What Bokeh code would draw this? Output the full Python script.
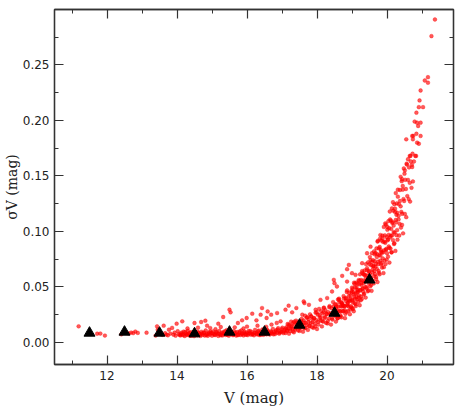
from bokeh.plotting import figure
from bokeh.models import (Range1d, LinearAxis, SingleIntervalTicker, NumeralTickFormatter,
                          ColumnDataSource, CustomJSTickFormatter)
from bokeh.embed import file_html
from bokeh.resources import INLINE

# Binned mean errors (black triangles)
bin_mag = [11.5, 12.5, 13.5, 14.5, 15.5, 16.5, 17.5, 18.5, 19.5]
bin_sigma = [0.0084, 0.0093, 0.0084, 0.0078, 0.0093, 0.0093, 0.0156, 0.0264, 0.0563]

# Individual stars (V, sigma V), by magnitude range
stars_bright = [
    (11.19, 0.0144), (11.72, 0.0078), (11.81, 0.0079), (11.94, 0.0061), (12.41, 0.0072),
    (12.62, 0.0080), (12.69, 0.0088), (12.75, 0.0083), (12.81, 0.0097), (12.88, 0.0085),
    (13.13, 0.0087), (13.39, 0.0061), (13.43, 0.0144), (13.45, 0.0114), (13.52, 0.0075),
    (13.58, 0.0068), (13.62, 0.0150), (13.66, 0.0082), (13.70, 0.0070), (13.74, 0.0063),
    (13.77, 0.0114), (13.81, 0.0079), (13.86, 0.0130), (13.90, 0.0069), (13.93, 0.0088),
    (13.96, 0.0060), (13.99, 0.0168), (14.02, 0.0100), (14.05, 0.0073), (14.08, 0.0066),
]

stars_14_17 = [
    (14.10, .0062), (14.13, .0088), (14.16, .0071), (14.19, .0097), (14.22, .0057),
    (14.25, .0080), (14.28, .0066), (14.31, .0104), (14.34, .0074), (14.37, .0059),
    (14.40, .0091), (14.43, .0069), (14.46, .0083), (14.49, .0056), (14.52, .0099),
    (14.55, .0073), (14.58, .0063), (14.61, .0087), (14.64, .0078), (14.67, .0058),
    (14.70, .0095), (14.73, .0067), (14.76, .0082), (14.79, .0061), (14.82, .0107),
    (14.85, .0075), (14.88, .0059), (14.91, .0090), (14.94, .0070), (14.97, .0084),
    (15.00, .0060), (15.03, .0098), (15.06, .0074), (15.09, .0065), (15.12, .0088),
    (15.15, .0079), (15.18, .0058), (15.21, .0102), (15.24, .0071), (15.27, .0085),
    (15.30, .0062), (15.33, .0094), (15.36, .0076), (15.39, .0067), (15.42, .0110),
    (15.45, .0081), (15.48, .0060), (15.51, .0091), (15.54, .0073), (15.57, .0086),
    (15.60, .0064), (15.63, .0100), (15.66, .0077), (15.69, .0061), (15.72, .0093),
    (15.75, .0070), (15.78, .0084), (15.81, .0066), (15.84, .0108), (15.87, .0079),
    (15.90, .0062), (15.93, .0096), (15.96, .0074), (15.99, .0088), (16.02, .0065),
    (16.05, .0103), (16.08, .0080), (16.11, .0069), (16.14, .0092), (16.17, .0076),
    (16.20, .0063), (16.23, .0112), (16.26, .0085), (16.29, .0071), (16.32, .0098),
    (16.35, .0066), (16.38, .0089), (16.41, .0078), (16.44, .0116), (16.47, .0068),
    (16.50, .0094), (16.53, .0082), (16.56, .0072), (16.59, .0105), (16.62, .0088),
    (16.65, .0070), (16.68, .0099), (16.71, .0080), (16.74, .0121), (16.77, .0090),
    (16.80, .0074), (16.83, .0108), (16.86, .0086), (16.89, .0127), (16.92, .0078),
    (16.95, .0100), (16.98, .0091), (17.01, .0132), (17.04, .0083), (17.07, .0112),
]

stars_14_17_b = [
    (14.115, .0077), (14.175, .0064), (14.235, .0093), (14.295, .0072), (14.355, .0084),
    (14.415, .0060), (14.475, .0076), (14.535, .0068), (14.595, .0095), (14.655, .0071),
    (14.715, .0080), (14.775, .0089), (14.835, .0064), (14.895, .0078), (14.955, .0097),
    (15.015, .0082), (15.075, .0069), (15.135, .0095), (15.195, .0075), (15.255, .0063),
    (15.315, .0081), (15.375, .0100), (15.435, .0068), (15.495, .0077), (15.555, .0096),
    (15.615, .0070), (15.675, .0086), (15.735, .0064), (15.795, .0099), (15.855, .0073),
    (15.915, .0085), (15.975, .0068), (16.035, .0079), (16.095, .0101), (16.155, .0071),
    (16.215, .0087), (16.275, .0077), (16.335, .0106), (16.395, .0067), (16.455, .0086),
    (16.515, .0076), (16.575, .0113), (16.635, .0079), (16.695, .0092), (16.755, .0072),
    (16.815, .0096), (16.875, .0115), (16.935, .0088), (16.995, .0118), (17.055, .0097),
]

stars_scatter_mid = [
    (14.15, .0189), (14.50, .0174), (14.69, .0183), (14.81, .0195), (14.86, .0150),
    (15.18, .0168), (15.32, .0228), (15.50, .0294), (15.53, .0270), (15.74, .0174),
    (15.86, .0198), (15.99, .0219), (16.15, .0258), (16.27, .0198), (16.43, .0309),
    (16.39, .0249), (16.56, .0219), (16.59, .0278), (16.69, .0249), (16.86, .0264),
    (16.96, .0189), (17.10, .0294), (17.19, .0330), (17.29, .0270), (17.41, .0309),
    (17.64, .0354), (17.58, .0249), (14.30, .0125), (14.60, .0132), (14.95, .0128),
    (15.25, .0138), (15.65, .0135), (16.00, .0142), (16.30, .0150), (16.70, .0160),
    (15.10, .0118), (15.90, .0125), (16.55, .0140), (16.85, .0175),
]

stars_17_19 = [
    (17.10, .0084), (17.12, .0135), (17.14, .0107), (17.16, .0165), (17.18, .0125),
    (17.20, .0078), (17.22, .0155), (17.24, .0102), (17.26, .0187), (17.28, .0139),
    (17.30, .0122), (17.32, .0177), (17.34, .0090), (17.36, .0163), (17.38, .0115),
    (17.40, .0196), (17.42, .0137), (17.44, .0182), (17.46, .0107), (17.48, .0160),
    (17.50, .0103), (17.52, .0171), (17.54, .0133), (17.56, .0210), (17.58, .0158),
    (17.60, .0096), (17.62, .0197), (17.64, .0127), (17.66, .0240), (17.68, .0175),
    (17.70, .0155), (17.72, .0225), (17.74, .0112), (17.76, .0207), (17.78, .0147),
    (17.80, .0252), (17.82, .0174), (17.84, .0233), (17.86, .0136), (17.88, .0205),
    (17.90, .0131), (17.92, .0218), (17.94, .0168), (17.96, .0267), (17.98, .0199),
    (18.00, .0120), (18.02, .0249), (18.04, .0160), (18.06, .0301), (18.08, .0221),
    (18.10, .0195), (18.12, .0282), (18.14, .0143), (18.16, .0260), (18.18, .0186),
    (18.20, .0313), (18.22, .0219), (18.24, .0290), (18.26, .0175), (18.28, .0256),
    (18.30, .0170), (18.32, .0271), (18.34, .0214), (18.36, .0327), (18.38, .0249),
    (18.40, .0160), (18.42, .0306), (18.44, .0205), (18.46, .0363), (18.48, .0272),
    (18.50, .0244), (18.52, .0343), (18.54, .0187), (18.56, .0322), (18.58, .0239),
    (18.60, .0386), (18.62, .0279), (18.64, .0363), (18.66, .0231), (18.68, .0327),
    (18.70, .0225), (18.72, .0347), (18.74, .0280), (18.76, .0417), (18.78, .0325),
    (18.80, .0218), (18.82, .0395), (18.84, .0274), (18.86, .0468), (18.88, .0359),
    (18.90, .0324), (18.92, .0446), (18.94, .0253), (18.96, .0418), (18.98, .0315),
    (19.00, .0493),
]

stars_17_19_b = [
    (17.11, .0124), (17.15, .0102), (17.19, .0158), (17.23, .0123), (17.27, .0149),
    (17.31, .0099), (17.35, .0186), (17.39, .0128), (17.43, .0168), (17.47, .0153),
    (17.51, .0131), (17.55, .0188), (17.59, .0158), (17.63, .0178), (17.67, .0130),
    (17.71, .0224), (17.75, .0183), (17.79, .0147), (17.83, .0233), (17.87, .0179),
    (17.91, .0218), (17.95, .0143), (17.99, .0271), (18.03, .0186), (18.07, .0247),
    (18.11, .0225), (18.15, .0192), (18.19, .0273), (18.23, .0230), (18.27, .0255),
    (18.31, .0191), (18.35, .0316), (18.39, .0261), (18.43, .0215), (18.47, .0323),
    (18.51, .0256), (18.55, .0309), (18.59, .0217), (18.63, .0383), (18.67, .0278),
    (18.71, .0356), (18.75, .0330), (18.79, .0290), (18.83, .0399), (18.87, .0344),
    (18.91, .0378), (18.95, .0295), (18.99, .0464),
]

stars_scatter_faint = [
    (18.91, .0698), (18.86, .0659), (18.72, .0599), (18.48, .0563), (18.50, .0533),
    (18.43, .0458), (18.57, .0503), (18.86, .0548), (19.00, .0623), (19.10, .0608),
    (18.10, .0383), (18.29, .0399), (17.62, .0368), (17.77, .0338), (17.96, .0294),
    (18.19, .0309), (19.43, .0803), (19.53, .0862), (19.81, .0967), (19.29, .0713),
]

stars_19_21 = [
    (19.00, .0385), (19.01, .0308), (19.02, .0480), (19.03, .0359), (19.04, .0451),
    (19.05, .0280), (19.06, .0538), (19.07, .0408), (19.08, .0352), (19.09, .0498),
    (19.10, .0440), (19.11, .0327), (19.12, .0538), (19.13, .0409), (19.14, .0473),
    (19.15, .0387), (19.16, .0529), (19.17, .0457), (19.18, .0367), (19.19, .0561),
    (19.20, .0422), (19.21, .0523), (19.22, .0334), (19.23, .0613), (19.24, .0472),
    (19.25, .0411), (19.26, .0562), (19.27, .0518), (19.28, .0391), (19.29, .0626),
    (19.30, .0482), (19.31, .0553), (19.32, .0458), (19.33, .0614), (19.34, .0535),
    (19.35, .0438), (19.36, .0648), (19.37, .0498), (19.38, .0607), (19.39, .0403),
    (19.40, .0705), (19.41, .0552), (19.42, .0485), (19.43, .0650), (19.44, .0601),
    (19.45, .0460), (19.46, .0721), (19.47, .0559), (19.48, .0638), (19.49, .0530),
    (19.50, .0705), (19.51, .0615), (19.52, .0505), (19.53, .0741), (19.54, .0572),
    (19.55, .0694), (19.56, .0464), (19.57, .0803), (19.58, .0630), (19.59, .0556),
    (19.60, .0740), (19.61, .0686), (19.62, .0531), (19.63, .0820), (19.64, .0643),
    (19.65, .0731), (19.66, .0614), (19.67, .0806), (19.68, .0708), (19.69, .0589),
    (19.70, .0846), (19.71, .0662), (19.72, .0795), (19.73, .0543), (19.74, .0915),
    (19.75, .0726), (19.76, .0644), (19.77, .0847), (19.78, .0786), (19.79, .0613),
    (19.80, .0933), (19.81, .0736), (19.82, .0834), (19.83, .0703), (19.84, .0917),
    (19.85, .0808), (19.86, .0674), (19.87, .0962), (19.88, .0756), (19.89, .0905),
    (19.90, .0624), (19.91, .1040), (19.92, .0829), (19.93, .0737), (19.94, .0964),
    (19.95, .0897), (19.96, .0705), (19.97, .1061), (19.98, .0842), (19.99, .0949),
    (20.00, .0803), (20.01, .1041), (20.02, .0920), (20.03, .0772), (20.04, .1092),
    (20.05, .0864), (20.06, .1029), (20.07, .0719), (20.08, .1179), (20.09, .0946),
    (20.10, .0845), (20.11, .1097), (20.12, .1023), (20.13, .0811), (20.14, .1207),
    (20.15, .0964), (20.16, .1084), (20.17, .0922), (20.18, .1187), (20.19, .1052),
    (20.20, .0886), (20.21, .1244), (20.22, .0989), (20.23, .1175), (20.24, .0824),
    (20.25, .1345), (20.26, .1081), (20.27, .0966), (20.28, .1252), (20.29, .1168),
    (20.30, .0925), (20.31, .1376), (20.33, .1108), (20.34, .1246), (20.36, .1068),
    (20.37, .1373), (20.39, .1226), (20.40, .1034), (20.42, .1452), (20.43, .1159),
    (20.45, .1376), (20.46, .0982), (20.48, .1567), (20.49, .1274), (20.51, .1157),
    (20.52, .1465), (20.54, .1382), (20.55, .1128), (20.57, .1602), (20.58, .1318),
    (20.60, .1464), (20.62, .1291), (20.63, .1576), (20.65, .1438), (20.66, .1269),
    (20.68, .1630), (20.70, .1393), (20.72, .1580), (20.74, .1450), (20.67, .1680),
    (20.81, .1680), (20.73, .1700), (20.77, .1630),
]

stars_19_21_b = [
    (18.51, .0288), (18.53, .0239), (18.55, .0340), (18.57, .0280), (18.59, .0217),
    (18.61, .0322), (18.63, .0394), (18.65, .0285), (18.67, .0243), (18.69, .0363),
    (18.71, .0322), (18.73, .0337), (18.75, .0282), (18.77, .0395), (18.79, .0326),
    (18.81, .0257), (18.83, .0372), (18.85, .0453), (18.87, .0331), (18.89, .0283),
    (18.91, .0417), (18.93, .0370), (18.95, .0387), (18.97, .0325), (18.99, .0450),
    (19.01, .0375), (19.03, .0300), (19.05, .0433), (19.07, .0527), (19.09, .0392),
    (19.11, .0342), (19.13, .0498), (19.15, .0448), (19.17, .0472), (19.19, .0402),
    (19.21, .0555), (19.23, .0467), (19.25, .0379), (19.27, .0534), (19.29, .0642),
    (19.31, .0487), (19.33, .0429), (19.35, .0608), (19.37, .0550), (19.39, .0577),
    (19.41, .0499), (19.43, .0668), (19.45, .0569), (19.47, .0467), (19.49, .0643),
    (19.51, .0768), (19.53, .0586), (19.55, .0518), (19.57, .0724), (19.59, .0655),
    (19.61, .0686), (19.63, .0597), (19.65, .0793), (19.67, .0681), (19.69, .0568),
    (19.71, .0768), (19.73, .0908), (19.75, .0704), (19.77, .0626), (19.79, .0859),
    (19.81, .0782), (19.83, .0817), (19.85, .0715), (19.87, .0938), (19.89, .0810),
    (19.91, .0677), (19.93, .0908), (19.95, .1071), (19.97, .0835), (19.99, .0746),
    (20.01, .1015), (20.03, .0928), (20.05, .0969), (20.07, .0851), (20.09, .1107),
    (20.11, .0961), (20.13, .0811), (20.15, .1076), (20.17, .1263), (20.19, .0994),
    (20.21, .0893), (20.23, .1205), (20.25, .1103), (20.27, .1150), (20.29, .1012),
    (20.31, .1313), (20.33, .1140), (20.35, .0963), (20.37, .1274), (20.39, .1492),
    (20.41, .1176), (20.43, .1058), (20.45, .1409), (20.47, .1291),
]

stars_tail = [
    (21.37, .291), (21.27, .276), (21.17, .239), (21.08, .236), (21.17, .234),
    (20.96, .227), (20.93, .218), (20.91, .212), (21.03, .212), (20.84, .207),
    (20.79, .199), (20.86, .198), (20.96, .198), (20.89, .195), (20.84, .188),
    (20.75, .186), (20.96, .186), (20.55, .183), (20.74, .183), (20.86, .180),
    (20.91, .179), (20.65, .168), (20.83, .168), (20.60, .165), (20.56, .161),
    (20.71, .160), (20.50, .152), (20.43, .147), (20.51, .155), (20.72, .186),
]

segments = [stars_bright, stars_14_17, stars_14_17_b, stars_scatter_mid, stars_17_19,
            stars_17_19_b, stars_scatter_faint, stars_19_21, stars_19_21_b, stars_tail]
star_mag = [p[0] for seg in segments for p in seg]
star_sigma = [p[1] for seg in segments for p in seg]

x_lo, x_hi = 10.5, 21.9
y_lo, y_hi = -0.02, 0.30

AX = "#333333"
TICK_FONT = "DejaVu Sans"
TITLE_FONT = "DejaVu Serif"

p = figure(width=460, height=409, output_backend="svg", toolbar_location=None,
           x_range=Range1d(x_lo, x_hi), y_range=Range1d(y_lo, y_hi),
           x_axis_type=None, y_axis_type=None,
           min_border_left=54, min_border_right=7, min_border_top=9, min_border_bottom=44)
p.grid.visible = False
p.outline_line_color = AX
p.outline_line_width = 1.3
p.background_fill_color = "white"
p.border_fill_color = "white"

blank = CustomJSTickFormatter(code="return ''")


def style(ax, labels=True):
    ax.axis_line_color = AX
    ax.axis_line_width = 1.3
    ax.major_tick_line_color = AX
    ax.minor_tick_line_color = AX
    ax.major_tick_line_width = 1.2
    ax.minor_tick_line_width = 1.0
    ax.major_tick_in = 9
    ax.major_tick_out = 0
    ax.minor_tick_in = 4
    ax.minor_tick_out = 0
    if labels:
        ax.major_label_text_font = TICK_FONT
        ax.major_label_text_font_size = "12px"
        ax.major_label_text_color = "#222222"
        ax.axis_label_text_font = TITLE_FONT
        ax.axis_label_text_font_size = "15px"
        ax.axis_label_text_font_style = "normal"
        ax.axis_label_text_color = "#222222"
    else:
        ax.formatter = blank
        ax.major_label_text_font_size = "1px"
        ax.major_label_standoff = 0


xb = LinearAxis(ticker=SingleIntervalTicker(interval=2, num_minor_ticks=2), axis_label="V (mag)")
style(xb)
xb.major_label_standoff = 6
xb.axis_label_standoff = 6
p.add_layout(xb, "below")

yl = LinearAxis(ticker=SingleIntervalTicker(interval=0.05, num_minor_ticks=2),
                axis_label="σV (mag)", formatter=NumeralTickFormatter(format="0.00"))
style(yl)
yl.major_label_standoff = 5
yl.axis_label_standoff = 0
yl.axis_label_text_font_size = "14px"
p.add_layout(yl, "left")

xa = LinearAxis(ticker=SingleIntervalTicker(interval=2, num_minor_ticks=2))
style(xa, labels=False)
p.add_layout(xa, "above")

yr = LinearAxis(ticker=SingleIntervalTicker(interval=0.05, num_minor_ticks=2))
style(yr, labels=False)
p.add_layout(yr, "right")

src = ColumnDataSource(dict(v=star_mag, s=star_sigma))
p.scatter("v", "s", source=src, marker="circle", size=3.8,
          fill_color="red", fill_alpha=0.65, line_color="red", line_alpha=0.65, line_width=0.5)

bsrc = ColumnDataSource(dict(v=bin_mag, s=bin_sigma))
p.scatter("v", "s", source=bsrc, marker="triangle", size=11,
          fill_color="black", line_color="black")

open("out.html", "w").write(file_html(p, INLINE))
